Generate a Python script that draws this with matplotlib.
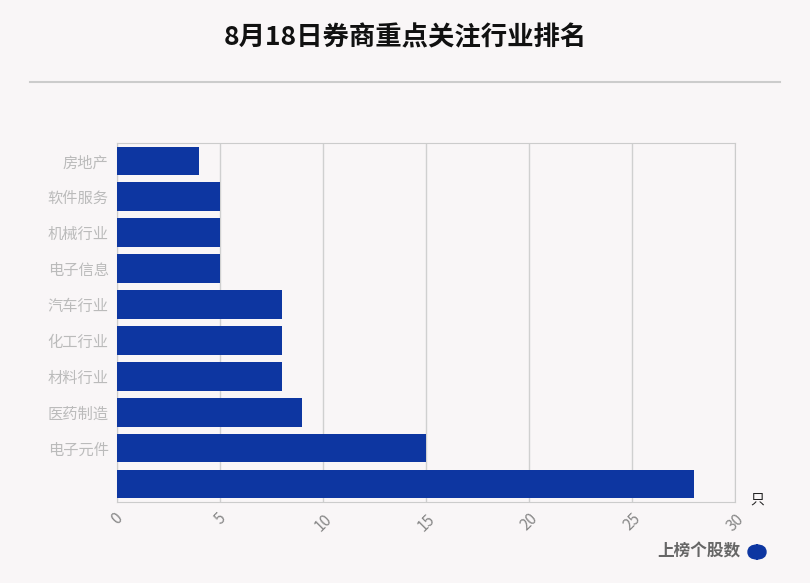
import matplotlib.pyplot as plt
from matplotlib.patches import FancyBboxPatch
from matplotlib.lines import Line2D

plt.rcParams['font.family'] = ['Noto Sans CJK SC', 'DejaVu Sans']

industries = ['房地产', '软件服务', '机械行业', '电子信息', '汽车行业', '化工行业', '材料行业', '医药制造', '电子元件', '']
counts = [4, 5, 5, 5, 8, 8, 8, 9, 15, 28]
x_ticks = [0, 5, 10, 15, 20, 25, 30]

bg = '#f9f6f7'
bar_color = '#0d36a1'

fig = plt.figure(figsize=(8.1, 5.83), dpi=100, facecolor=bg)
ax = fig.add_axes([0.1444, 0.139, 0.763, 0.6157], facecolor=bg)

pos = list(range(len(industries)))
ax.barh(pos, counts, height=0.8, color=bar_color, zorder=3)
ax.set_ylim(len(industries) - 0.5, -0.5)
ax.set_yticks(pos)
ax.set_yticklabels(industries, fontsize=11, color='#bbbbbb')
ax.set_xlim(0, 30)
ax.set_xticks(x_ticks)
ax.set_xticklabels([str(t) for t in x_ticks], rotation=45, fontsize=11, color='#888888')
ax.tick_params(length=0, pad=6)
ax.grid(True, axis='x', color='#d0d0d0', linewidth=1, zorder=0)
for s in ax.spines.values():
    s.set_color('#cccccc')

fig.text(0.5, 0.935, '8月18日券商重点关注行业排名', ha='center', va='center',
         fontsize=19, fontweight='bold', color='#111111')
fig.add_artist(Line2D([30 / 810, 780 / 810], [1 - 82 / 583] * 2, color='#cccccc', linewidth=1.5))
fig.text(757 / 810, 1 - 500 / 583, '只', ha='center', va='center', fontsize=10, color='#222222')

fig.text(740 / 810, 1 - 551 / 583, '上榜个股数', ha='right', va='center',
         fontsize=12, fontweight='bold', color='#666666')
fig.add_artist(FancyBboxPatch((748 / 810, 1 - 559 / 583), 18 / 810, 14 / 583,
                              boxstyle='round,pad=0,rounding_size=0.012',
                              transform=fig.transFigure, color=bar_color))

fig.savefig('out.png', dpi=100, facecolor=bg)
